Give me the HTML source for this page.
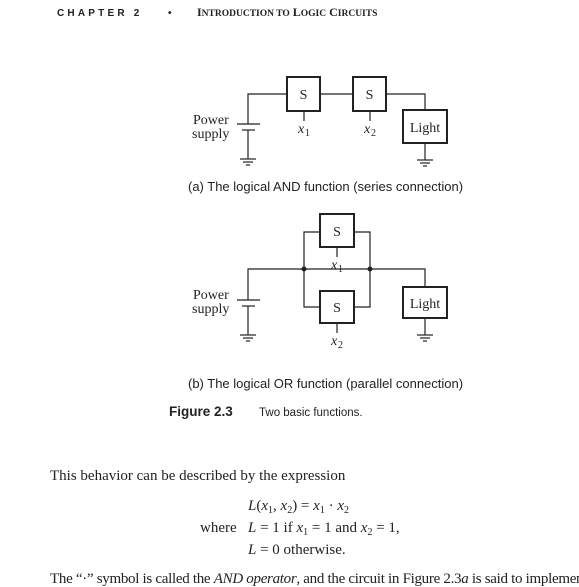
<!DOCTYPE html>
<html><head><style>
html,body{margin:0;padding:0;background:#fff;}
svg{display:block;}
.t{font-family:"Liberation Serif",serif;fill:#222;}
.s{font-family:"Liberation Sans",sans-serif;fill:#222;}
</style></head><body>
<svg width="579" height="587" viewBox="0 0 579 587" xmlns="http://www.w3.org/2000/svg">
<text x="57" y="16" class="s" font-size="10" font-weight="bold" letter-spacing="3.2">CHAPTER 2</text>
<text x="168" y="16" class="s" font-size="10" font-weight="bold">•</text>
<text x="197" y="16" class="t" font-size="12" font-weight="bold">I<tspan font-size="9.5">NTRODUCTION TO</tspan> L<tspan font-size="9.5">OGIC</tspan> C<tspan font-size="9.5">IRCUITS</tspan></text>

<g stroke="#222" stroke-width="1.2" fill="none">
<polyline points="248,124 248,94 287,94"/>
<line x1="237" y1="124" x2="260" y2="124"/>
<line x1="242" y1="130" x2="255" y2="130"/>
<line x1="248" y1="130" x2="248" y2="159"/>
<line x1="240" y1="159" x2="256" y2="159"/><line x1="243" y1="162" x2="253" y2="162"/><line x1="246" y1="165" x2="250" y2="165"/>
<rect x="287" y="77" width="33" height="34" stroke-width="2"/>
<rect x="353" y="77" width="33" height="34" stroke-width="2"/>
<line x1="320" y1="94" x2="353" y2="94"/>
<polyline points="386,94 425,94 425,110"/>
<rect x="403" y="110" width="44" height="33" stroke-width="2"/>
<line x1="425" y1="143" x2="425" y2="160"/>
<line x1="417" y1="160" x2="433" y2="160"/><line x1="420" y1="163" x2="430" y2="163"/><line x1="423" y1="166" x2="427" y2="166"/>
<line x1="304" y1="111" x2="304" y2="121"/>
<line x1="370" y1="111" x2="370" y2="121"/>
<polyline points="248,300 248,269 370,269"/>
<line x1="237" y1="300" x2="260" y2="300"/>
<line x1="242" y1="306" x2="255" y2="306"/>
<line x1="248" y1="306" x2="248" y2="335"/>
<line x1="240" y1="335" x2="256" y2="335"/><line x1="243" y1="338" x2="253" y2="338"/><line x1="246" y1="341" x2="250" y2="341"/>
<polyline points="320,232 304,232 304,307 320,307"/>
<polyline points="354,232 370,232 370,307 354,307"/>
<rect x="320" y="214" width="34" height="33" stroke-width="2"/>
<rect x="320" y="291" width="34" height="32" stroke-width="2"/>
<polyline points="370,269 425,269 425,287"/>
<rect x="403" y="287" width="44" height="31" stroke-width="2"/>
<line x1="425" y1="318" x2="425" y2="335"/>
<line x1="417" y1="335" x2="433" y2="335"/><line x1="420" y1="338" x2="430" y2="338"/><line x1="423" y1="341" x2="427" y2="341"/>
<line x1="337" y1="247" x2="337" y2="257"/>
<line x1="337" y1="323" x2="337" y2="333"/>
</g>
<circle cx="304" cy="269" r="2.5" fill="#222"/>
<circle cx="370" cy="269" r="2.5" fill="#222"/>

<g class="t" font-size="14">
<text x="303.5" y="99" text-anchor="middle">S</text>
<text x="369.5" y="99" text-anchor="middle">S</text>
<text x="425" y="132" text-anchor="middle">Light</text>
<text x="193" y="124">Power</text>
<text x="192" y="138">supply</text>
<text x="298" y="133" font-style="italic">x</text><text x="305" y="136" font-size="10">1</text>
<text x="364" y="133" font-style="italic">x</text><text x="371" y="136" font-size="10">2</text>
<text x="337" y="236" text-anchor="middle">S</text>
<text x="337" y="312" text-anchor="middle">S</text>
<text x="425" y="308" text-anchor="middle">Light</text>
<text x="193" y="299">Power</text>
<text x="192" y="313">supply</text>
<text x="331" y="269" font-style="italic">x</text><text x="338" y="272" font-size="10">1</text>
<text x="331" y="345" font-style="italic">x</text><text x="338" y="348" font-size="10">2</text>
</g>
<text x="188" y="191" class="s" font-size="13">(a) The logical AND function (series connection)</text>
<text x="188" y="388" class="s" font-size="13">(b) The logical OR function (parallel connection)</text>
<text x="169" y="416" class="s" font-size="13.5" font-weight="bold">Figure 2.3</text>
<text x="259" y="416" class="s" font-size="11.5">Two basic functions.</text>

<g class="t" font-size="15">
<text x="50" y="480">This behavior can be described by the expression</text>
<text x="248" y="510"><tspan font-style="italic">L</tspan>(<tspan font-style="italic">x</tspan><tspan font-size="10" dy="3">1</tspan><tspan dy="-3">, </tspan><tspan font-style="italic">x</tspan><tspan font-size="10" dy="3">2</tspan><tspan dy="-3">) = </tspan><tspan font-style="italic">x</tspan><tspan font-size="10" dy="3">1</tspan><tspan dy="-3"> · </tspan><tspan font-style="italic">x</tspan><tspan font-size="10" dy="3">2</tspan></text>
<text x="200" y="532">where</text>
<text x="248" y="532"><tspan font-style="italic">L</tspan> = 1 if <tspan font-style="italic">x</tspan><tspan font-size="10" dy="3">1</tspan><tspan dy="-3"> = 1 and </tspan><tspan font-style="italic">x</tspan><tspan font-size="10" dy="3">2</tspan><tspan dy="-3"> = 1,</tspan></text>
<text x="248" y="554"><tspan font-style="italic">L</tspan> = 0 otherwise.</text>
<text x="50" y="583" letter-spacing="-0.3">The “·” symbol is called the <tspan font-style="italic">AND operator</tspan>, and the circuit in Figure 2.3<tspan font-style="italic">a</tspan> is said to implement</text>
</g>
</svg>
</body></html>
